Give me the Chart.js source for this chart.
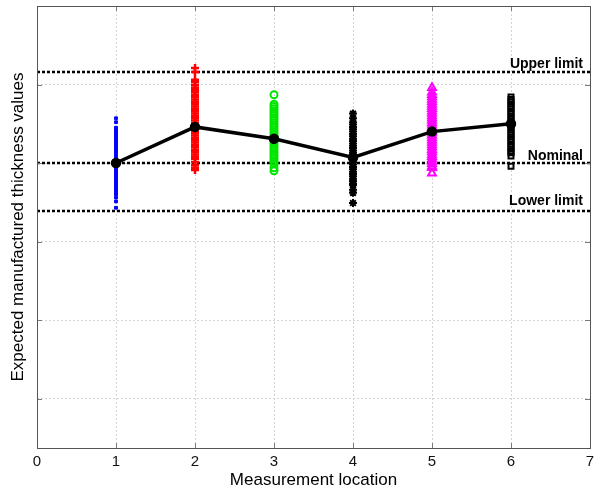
<!DOCTYPE html>
<html>
<head>
<meta charset="utf-8">
<script src="https://cdn.jsdelivr.net/npm/chart.js@4"></script>
<style>
html, body { margin: 0; padding: 0; background: #fff; }
#wrap { width: 594px; height: 491px; }
</style>
</head>
<body>
<div id="wrap"><canvas id="thicknessChart" width="594" height="491"></canvas></div>
<script>
const ctx = document.getElementById('thicknessChart').getContext('2d');

// Measurement locations and the spread of expected thickness values at each one
const locations = [1, 2, 3, 4, 5, 6];
const loc1 = [4.57, 4.52, 4.45, 4.42, 4.39, 4.36, 4.33, 4.30, 4.27, 4.24, 4.21, 4.18, 4.15, 4.12, 4.09, 4.06, 4.03, 4.01, 3.99, 3.96, 3.93, 3.90, 3.87, 3.84, 3.81, 3.78, 3.75, 3.72, 3.69, 3.66, 3.63, 3.60, 3.56, 3.51, 3.43];
const loc2 = [5.21, 5.16, 5.06, 5.03, 4.99, 4.96, 4.93, 4.90, 4.87, 4.84, 4.81, 4.78, 4.75, 4.72, 4.69, 4.66, 4.63, 4.60, 4.57, 4.54, 4.51, 4.48, 4.46, 4.44, 4.41, 4.38, 4.35, 4.32, 4.29, 4.26, 4.23, 4.20, 4.17, 4.14, 4.11, 4.08, 4.05, 4.01, 3.97, 3.94, 3.91];
const loc3 = [4.87, 4.75, 4.72, 4.69, 4.66, 4.63, 4.60, 4.57, 4.54, 4.51, 4.48, 4.45, 4.42, 4.39, 4.36, 4.33, 4.31, 4.29, 4.26, 4.23, 4.20, 4.17, 4.14, 4.11, 4.08, 4.05, 4.02, 3.99, 3.94, 3.90];
const loc4 = [4.63, 4.57, 4.52, 4.49, 4.46, 4.43, 4.40, 4.37, 4.34, 4.31, 4.28, 4.25, 4.22, 4.19, 4.16, 4.13, 4.10, 4.07, 4.04, 4.01, 3.98, 3.95, 3.92, 3.89, 3.86, 3.83, 3.80, 3.77, 3.74, 3.72, 3.66, 3.62, 3.49];
const loc5 = [4.96, 4.90, 4.87, 4.84, 4.81, 4.78, 4.75, 4.72, 4.69, 4.66, 4.63, 4.60, 4.57, 4.54, 4.51, 4.48, 4.45, 4.42, 4.40, 4.38, 4.35, 4.32, 4.29, 4.26, 4.23, 4.20, 4.17, 4.14, 4.11, 4.08, 4.05, 4.02, 3.99, 3.96, 3.94, 3.87];
const loc6 = [4.84, 4.81, 4.78, 4.75, 4.72, 4.69, 4.66, 4.63, 4.60, 4.57, 4.54, 4.51, 4.50, 4.48, 4.45, 4.42, 4.39, 4.36, 4.33, 4.30, 4.27, 4.24, 4.21, 4.18, 4.15, 4.13, 4.09, 3.96];
const meanValues = [4.00, 4.46, 4.31, 4.07, 4.40, 4.50];

// Tolerance lines
const limitNames = ['Upper limit', 'Nominal', 'Lower limit'];
const limitValues = [5.16, 4.00, 3.39];

const xTicks = [0, 1, 2, 3, 4, 5, 6, 7];
const yTicks = [1, 2, 3, 4, 5, 6];

const spreadStyles = [
    { style: 'rect', color: '#0000ff', radius: 2, width: 1 },
    { style: 'cross', color: '#ff0000', radius: 4, width: 2.5 },
    { style: 'circle', color: '#00e600', radius: 3.5, width: 2 },
    { style: 'star', color: '#000000', radius: 4, width: 2 },
    { style: 'triangle', color: '#ff00ff', radius: 4.5, width: 2 },
    { style: 'rect', color: '#000000', radius: 3.5, width: 2 }
];

const spreads = [loc1, loc2, loc3, loc4, loc5, loc6];

const datasets = [];

// mean line on top
datasets.push({
    type: 'line',
    data: locations.map((x, i) => ({ x: x, y: meanValues[i] })),
    borderColor: '#000',
    backgroundColor: '#000',
    borderWidth: 3.5,
    pointStyle: 'circle',
    pointRadius: 3.5,
    order: 0
});

spreads.forEach((values, i) => {
    const s = spreadStyles[i];
    datasets.push({
        type: 'scatter',
        data: values.map(v => ({ x: locations[i], y: v })),
        pointStyle: s.style,
        pointRadius: s.radius,
        borderColor: s.color,
        backgroundColor: i === 0 ? s.color : 'rgba(0,0,0,0)',
        pointBorderWidth: s.width,
        order: 2
    });
});

limitValues.forEach(v => {
    datasets.push({
        type: 'line',
        data: [{ x: xTicks[0], y: v }, { x: xTicks[xTicks.length - 1], y: v }],
        borderColor: '#000',
        borderWidth: 2.5,
        borderDash: [3, 2],
        pointRadius: 0,
        order: 3
    });
});

// box round the plot, inward tick marks, x tick labels and limit labels
const framePlugin = {
    id: 'frame',
    afterDraw(chart) {
        const { ctx, chartArea: a, scales } = chart;
        ctx.save();
        ctx.strokeStyle = '#7a7a7a';
        ctx.lineWidth = 1;
        ctx.beginPath();
        yTicks.forEach(v => {
            const y = Math.round(scales.y.getPixelForValue(v)) + 0.5;
            ctx.moveTo(a.left, y); ctx.lineTo(a.left + 5, y);
            ctx.moveTo(a.right, y); ctx.lineTo(a.right - 5, y);
        });
        xTicks.forEach(v => {
            const x = Math.round(scales.x.getPixelForValue(v)) + 0.5;
            ctx.moveTo(x, a.bottom); ctx.lineTo(x, a.bottom - 5);
            ctx.moveTo(x, a.top); ctx.lineTo(x, a.top + 5);
        });
        ctx.stroke();
        ctx.strokeStyle = '#555';
        ctx.strokeRect(Math.round(a.left) + 0.5, Math.round(a.top) + 0.5, Math.round(a.right - a.left), Math.round(a.bottom - a.top));

        ctx.fillStyle = '#111';
        ctx.font = '15px "Liberation Sans", Arial, sans-serif';
        ctx.textAlign = 'center';
        ctx.textBaseline = 'top';
        xTicks.forEach(v => {
            ctx.fillText(String(v), scales.x.getPixelForValue(v), a.bottom + 6);
        });

        ctx.fillStyle = '#000';
        ctx.font = 'bold 14px "Liberation Sans", Arial, sans-serif';
        ctx.textAlign = 'right';
        ctx.textBaseline = 'alphabetic';
        const lift = [4, 3, 6];
        limitNames.forEach((name, i) => {
            const y = scales.y.getPixelForValue(limitValues[i]);
            ctx.fillText(name, a.right - 7, y - lift[i]);
        });
        ctx.restore();
    }
};

new Chart(ctx, {
    data: { datasets: datasets },
    options: {
        responsive: false,
        animation: false,
        layout: { autoPadding: false, padding: { top: 6, right: 4, left: 0, bottom: 0 } },
        plugins: {
            legend: { display: false },
            tooltip: { enabled: false }
        },
        scales: {
            x: {
                type: 'linear',
                min: 0,
                max: 7,
                afterBuildTicks: scale => { scale.ticks = xTicks.map(v => ({ value: v })); },
                afterFit: scale => { scale.height = 43; },
                ticks: { display: false },
                grid: { color: '#d4d4d4', drawTicks: false },
                border: { display: false, dash: [2, 2] },
                title: {
                    display: true,
                    text: 'Measurement location',
                    color: '#000',
                    font: { family: '"Liberation Sans", Arial, sans-serif', size: 17 },
                    padding: { top: 0, bottom: 0 }
                }
            },
            y: {
                type: 'linear',
                min: 0.37,
                max: 6,
                afterBuildTicks: scale => { scale.ticks = yTicks.map(v => ({ value: v })); },
                afterFit: scale => { scale.width = 37; },
                ticks: { display: false },
                grid: { color: '#d4d4d4', drawTicks: false },
                border: { display: false, dash: [2, 2] },
                title: {
                    display: true,
                    text: 'Expected manufactured thickness values',
                    color: '#000',
                    font: { family: '"Liberation Sans", Arial, sans-serif', size: 17 },
                    padding: { top: 8, bottom: 0 }
                }
            }
        }
    },
    plugins: [framePlugin]
});
</script>
</body>
</html>
